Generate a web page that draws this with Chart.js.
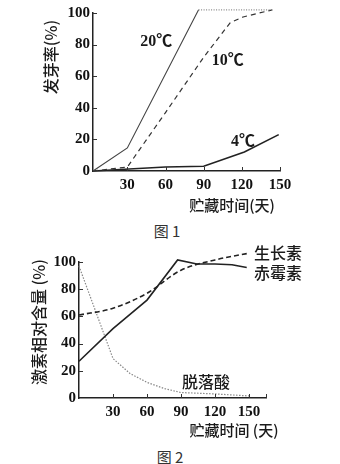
<!DOCTYPE html>
<html>
<head>
<meta charset="utf-8">
<script src="https://cdn.jsdelivr.net/npm/chart.js@4.4.1/dist/chart.umd.min.js"></script>
<style>
  html, body { margin: 0; padding: 0; background: #fff; }
  #page { position: relative; width: 340px; height: 464px; overflow: hidden; background: #fff; }
  canvas { position: absolute; left: 0; }
  .caption { position: absolute; width: 340px; left: 0; text-align: center; line-height: 20px;
             font-family: "Noto Sans CJK SC"; font-size: 15px; color: #333; }
</style>
</head>
<body>
<div id="page">
  <canvas id="chart1" width="340" height="220" style="top:0"></canvas>
  <div class="caption" style="top:221px; left:-3px">图 1</div>
  <canvas id="chart2" width="340" height="208" style="top:236px"></canvas>
  <div class="caption" style="top:447px">图 2</div>
</div>
<script>
// figure 1 - germination rate vs storage days
var days20 = [3, 30, 86, 144];
var germ20 = [0, 14.6, 102, 102];
var days10 = [3, 30, 60, 90, 111, 121, 144];
var germ10 = [0, 2.5, 37, 72, 94, 97.5, 102];
var days4 = [3, 60, 90, 122, 149];
var germ4 = [0, 2.5, 3, 12, 23];

// figure 2 - hormone relative content vs storage days
var gaDays = [0, 30, 60, 87, 104, 120, 135, 148];
var gaLevel = [27, 51, 72, 101.5, 98.5, 98.5, 98, 96];
var iaaDays = [0, 30, 60, 90, 120, 150];
var iaaLevel = [61, 66, 77, 94, 101.5, 106.5];
var abaDays = [0, 30, 45, 60, 75, 90, 120, 150];
var abaLevel = [97, 29, 18, 11.5, 7, 4, 3, 1.5];

var yTicks = [0, 20, 40, 60, 80, 100];
var xTicks1 = [3, 30, 60, 90, 120, 150];
var xTicks2 = [0, 30, 60, 90, 120, 150, 165];

function points(xs, ys) {
  return xs.map(function(x, i) { return {x: x, y: ys[i]}; });
}

var serif = '"Liberation Serif", "Noto Sans CJK SC"';
var cjk = '"Noto Sans CJK SC"';

// inward tick marks + free text (labels, axis titles)
function makeMarks(texts) {
  return {
    id: 'marks',
    afterDraw: function(chart) {
      var ctx = chart.ctx;
      var xs = chart.scales.x, ys = chart.scales.y, area = chart.chartArea;
      ctx.save();
      ctx.strokeStyle = '#333';
      ctx.lineWidth = 1;
      xs.ticks.forEach(function(t) {
        if (t.value <= xs.min) return;
        var px = Math.round(xs.getPixelForValue(t.value)) + 0.5;
        ctx.beginPath(); ctx.moveTo(px, area.bottom); ctx.lineTo(px, area.bottom - 4); ctx.stroke();
      });
      ys.ticks.forEach(function(t) {
        if (t.value <= ys.min) return;
        var py = Math.round(ys.getPixelForValue(t.value)) + 0.5;
        ctx.beginPath(); ctx.moveTo(area.left, py); ctx.lineTo(area.left + 4, py); ctx.stroke();
      });
      ctx.fillStyle = '#1a1a1a';
      ctx.textAlign = 'center';
      ctx.textBaseline = 'middle';
      texts.forEach(function(t) {
        ctx.font = t.font;
        var x = t.at ? xs.getPixelForValue(t.at[0]) : t.x;
        var y = t.at ? ys.getPixelForValue(t.at[1]) : t.y;
        if (t.rotate) {
          ctx.save();
          ctx.translate(x, y);
          ctx.rotate(-Math.PI / 2);
          ctx.fillText(t.text, 0, 0);
          ctx.restore();
        } else {
          ctx.fillText(t.text, x, y);
        }
      });
      ctx.restore();
    }
  };
}

function makeOptions(cfg) {
  return {
    responsive: false,
    animation: false,
    layout: { padding: { left: 0, top: cfg.top, right: cfg.right, bottom: 0 } },
    plugins: {
      legend: { display: false },
      tooltip: { enabled: false }
    },
    elements: { point: { radius: 0 } },
    scales: {
      x: {
        type: 'linear', min: cfg.xmin, max: cfg.xmax,
        grid: { display: false, drawTicks: false },
        border: { color: '#222', width: 1.5 },
        afterFit: function(scale) { scale.height = cfg.xh; },
        afterBuildTicks: function(scale) { scale.ticks = cfg.xticks.map(function(v) { return {value: v}; }); },
        ticks: {
          padding: 5, color: '#111',
          font: { family: serif, size: 15, weight: 'bold' },
          autoSkip: false, maxRotation: 0,
          callback: function(v) { return (v > 0 && v % 30 === 0) ? v : ''; }
        }
      },
      y: {
        min: 0, max: 100,
        grid: { display: false, drawTicks: false },
        border: { color: '#222', width: 1.5 },
        afterFit: function(scale) { scale.width = cfg.yw; },
        afterBuildTicks: function(scale) { scale.ticks = yTicks.map(function(v) { return {value: v}; }); },
        ticks: { padding: 3, color: '#111', font: { family: serif, size: 15, weight: 'bold' } }
      }
    }
  };
}

new Chart(document.getElementById('chart1').getContext('2d'), {
  type: 'line',
  data: {
    datasets: [{
      label: '20℃',
      data: points(days20, germ20),
      borderColor: '#444', borderWidth: 1.1, clip: false,
      segment: {
        borderDash: function(c) { return c.p0DataIndex === 2 ? [1, 1.5] : undefined; },
        borderColor: function(c) { return c.p0DataIndex === 2 ? '#888' : undefined; }
      }
    }, {
      label: '10℃',
      data: points(days10, germ10),
      borderColor: '#333', borderWidth: 1.2, borderDash: [5, 4], clip: false
    }, {
      label: '4℃',
      data: points(days4, germ4),
      borderColor: '#222', borderWidth: 1.6, clip: false
    }]
  },
  options: makeOptions({ top: 13, right: 60, xmin: 3, xmax: 150, xh: 49, yw: 93, xticks: xTicks1 }),
  plugins: [makeMarks([
    { text: '20℃', at: [52.7, 81.6], font: 'bold 16px ' + serif },
    { text: '10℃', at: [109, 70], font: 'bold 16px ' + serif },
    { text: '4℃', at: [121, 18.4], font: 'bold 16px ' + serif },
    { text: '贮藏时间(天)', x: 232, y: 205, font: '500 15px ' + cjk },
    { text: '发芽率(%)', x: 51, y: 57, rotate: true, font: '500 16px ' + cjk }
  ])]
});

new Chart(document.getElementById('chart2').getContext('2d'), {
  type: 'line',
  data: {
    datasets: [{
      label: '赤霉素',
      data: points(gaDays, gaLevel),
      borderColor: '#222', borderWidth: 1.6, clip: false
    }, {
      label: '生长素',
      data: points(iaaDays, iaaLevel),
      borderColor: '#222', borderWidth: 1.6, borderDash: [5, 3],
      cubicInterpolationMode: 'monotone', clip: false
    }, {
      label: '脱落酸',
      data: points(abaDays, abaLevel),
      borderColor: '#888', borderWidth: 1.2, borderDash: [1.5, 1.5], clip: false
    }]
  },
  options: makeOptions({ top: 26, right: 74, xmin: 0, xmax: 165, xh: 46, yw: 79, xticks: xTicks2 }),
  plugins: [makeMarks([
    { text: '生长素', x: 278, y: 17, font: '500 16px ' + cjk },
    { text: '赤霉素', x: 278, y: 37, font: '500 16px ' + cjk },
    { text: '脱落酸', x: 206, y: 146, font: '500 16px ' + cjk },
    { text: '贮藏时间 (天)', x: 234, y: 194, font: '500 15px ' + cjk },
    { text: '激素相对含量 (%)', x: 39, y: 86, rotate: true, font: '500 16px ' + cjk }
  ])]
});
</script>
</body>
</html>
